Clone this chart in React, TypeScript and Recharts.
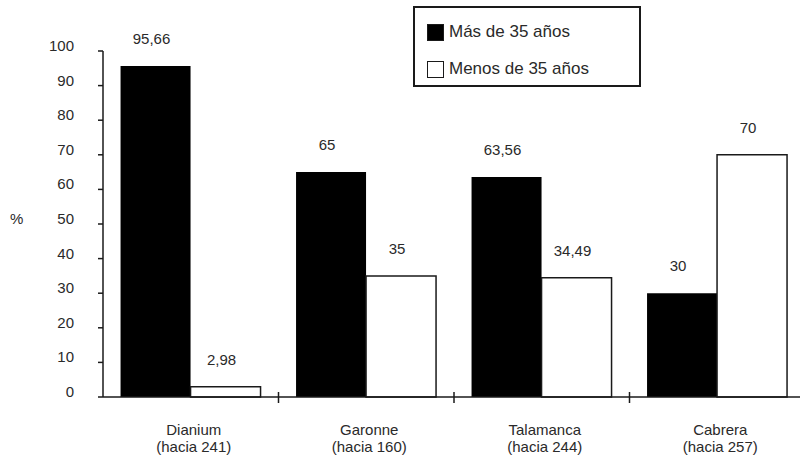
import React from 'react';
import { BarChart, Bar, XAxis, YAxis, Legend, LabelList } from 'recharts';

const categories = ['Dianium', 'Garonne', 'Talamanca', 'Cabrera'];
const subLabels = ['(hacia 241)', '(hacia 160)', '(hacia 244)', '(hacia 257)'];
const masDe35 = [95.66, 65, 63.56, 30];
const menosDe35 = [2.98, 35, 34.49, 70];
const yTicks = [0, 10, 20, 30, 40, 50, 60, 70, 80, 90, 100];
const seriesNames = ['Más de 35 años', 'Menos de 35 años'];

const data = categories.map((c, i) => ({
  name: c,
  sub: subLabels[i],
  mas: masDe35[i],
  menos: menosDe35[i],
}));

const FONT = '"Liberation Sans", Arial, Helvetica, sans-serif';
const TEXT = '#2a2a2a';
const INK = '#1a1a1a';

const fmt = (v: number) => String(v).replace('.', ',');

const XTick = (props: any) => {
  const { x, y, payload, index, width, visibleTicksCount } = props;
  const half = width / visibleTicksCount / 2;
  const sub = subLabels[index];
  return (
    <g>
      <line x1={x + half} x2={x + half} y1={y - 5} y2={y + 6} stroke={INK} strokeWidth={1.5} />
      <text x={x + 3} y={y + 38} textAnchor="middle" fontSize={15} fontFamily={FONT} fill={TEXT}>
        {payload.value}
      </text>
      <text x={x + 3} y={y + 55} textAnchor="middle" fontSize={15} fontFamily={FONT} fill={TEXT}>
        {sub}
      </text>
    </g>
  );
};

const YTick = (props: any) => {
  const { x, y, payload } = props;
  return (
    <text x={x} y={y} textAnchor="end" fontSize={15} fontFamily={FONT} fill={TEXT}>
      {payload.value}
    </text>
  );
};

const ValueLabel = (props: any) => {
  const { x, y, width, value } = props;
  return (
    <text x={x + width / 2 - 4} y={y - 22} textAnchor="middle" fontSize={15} fontFamily={FONT} fill={TEXT}>
      {fmt(value)}
    </text>
  );
};

const LegendBox = () => (
  <div
    style={{
      boxSizing: 'border-box',
      width: 228,
      height: 81,
      border: `2px solid ${INK}`,
      background: '#fff',
      fontFamily: FONT,
      fontSize: 17,
      color: TEXT,
      position: 'relative',
    }}
  >
    {seriesNames.map((n, i) => (
      <div
        key={n}
        style={{
          position: 'absolute',
          left: 12,
          top: i === 0 ? 15 : 52,
          display: 'flex',
          alignItems: 'center',
          height: 18,
          whiteSpace: 'nowrap',
        }}
      >
        <span
          style={{
            display: 'inline-block',
            boxSizing: 'border-box',
            width: 17,
            height: 17,
            background: i === 0 ? '#000' : '#fff',
            border: `1.5px solid ${INK}`,
            marginRight: 5,
          }}
        />
        <span>{n}</span>
      </div>
    ))}
  </div>
);

export default function App() {
  return (
    <div
      style={{
        position: 'absolute',
        left: 0,
        top: 0,
        width: 800,
        height: 459,
        overflow: 'hidden',
        background: '#fff',
      }}
    >
      <BarChart
        width={810}
        height={459}
        data={data}
        margin={{ top: 51, right: 5, bottom: 0, left: 0 }}
        barCategoryGap="10%"
        barGap={0}
      >
        <XAxis
          dataKey="name"
          height={62}
          axisLine={{ stroke: INK, strokeWidth: 1.5 }}
          tickLine={false}
          tickSize={0}
          tickMargin={0}
          tick={<XTick />}
          interval={0}
        />
        <YAxis
          width={103}
          domain={[0, 100]}
          ticks={yTicks}
          interval={0}
          axisLine={{ stroke: INK, strokeWidth: 1.5 }}
          tickLine={{ stroke: INK, strokeWidth: 1.5 }}
          tickSize={5}
          tickMargin={24}
          tick={<YTick />}
          label={{
            value: '%',
            position: 'insideLeft',
            offset: 10,
            dy: -5,
            fontSize: 15,
            fontFamily: FONT,
            fill: TEXT,
          }}
        />
        <Legend
          layout="horizontal"
          verticalAlign="middle"
          align="center"
          content={<LegendBox />}
          wrapperStyle={{ position: 'absolute', left: 413, top: 6, width: 228, height: 81 }}
        />
        <Bar dataKey="mas" name={seriesNames[0]} fill="#000" isAnimationActive={false}>
          <LabelList dataKey="mas" content={<ValueLabel />} />
        </Bar>
        <Bar
          dataKey="menos"
          name={seriesNames[1]}
          fill="#fff"
          stroke={INK}
          strokeWidth={1.5}
          isAnimationActive={false}
        >
          <LabelList dataKey="menos" content={<ValueLabel />} />
        </Bar>
      </BarChart>
    </div>
  );
}
